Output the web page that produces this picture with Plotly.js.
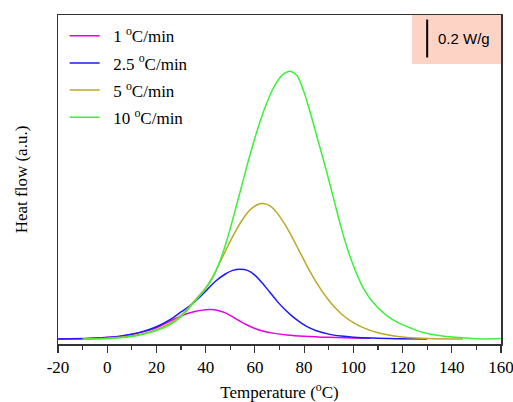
<!DOCTYPE html>
<html>
<head>
<meta charset="utf-8">
<script src="https://cdn.plot.ly/plotly-3.0.1.min.js"></script>
<style>html,body{margin:0;padding:0;background:#fff;}#chart{width:513px;height:402px;}</style>
</head>
<body>
<div id="chart"></div>
<script>
// Temperature (°C) and heat flow (W/g, baseline-subtracted)
var names = ["1 <sup>o</sup>C/min", "2.5 <sup>o</sup>C/min", "5 <sup>o</sup>C/min", "10 <sup>o</sup>C/min"];
var colors = ["#e600e6", "#1a1aff", "#bba823", "#3cf03c"];

var x1 = [-20, -10, -5, 0, 5, 10, 15, 20, 24, 28, 32, 36, 40, 42, 45, 48, 51, 54, 57, 60, 64, 68, 73, 80, 90, 100, 107];
var y1 = [0, 0.003, 0.005, 0.009, 0.015, 0.025, 0.04, 0.06, 0.085, 0.11, 0.132, 0.147, 0.155, 0.156, 0.151, 0.138, 0.117, 0.094, 0.073, 0.056, 0.04, 0.03, 0.022, 0.015, 0.009, 0.006, 0.004];

var x2 = [-20, -10, -5, 0, 5, 10, 15, 20, 25, 30, 35, 40, 44, 48, 51, 54, 57, 60, 63, 66, 69, 72, 75, 78, 81, 85, 90, 95, 100, 108, 118, 130];
var y2 = [0, 0.002, 0.004, 0.008, 0.014, 0.025, 0.042, 0.065, 0.098, 0.143, 0.19, 0.252, 0.305, 0.343, 0.362, 0.368, 0.362, 0.337, 0.295, 0.248, 0.2, 0.158, 0.122, 0.092, 0.067, 0.044, 0.026, 0.016, 0.01, 0.005, 0.002, 0];

var x3 = [-10, 0, 5, 10, 15, 20, 25, 30, 33, 36, 40, 43, 46, 49, 52, 55, 58, 61, 63.3, 66, 69, 72, 75, 78, 81, 84, 87, 90, 93, 96, 100, 104, 110, 116, 122, 130, 144.6];
var y3 = [0, 0.004, 0.009, 0.017, 0.03, 0.05, 0.08, 0.125, 0.165, 0.21, 0.27, 0.33, 0.41, 0.49, 0.565, 0.63, 0.68, 0.708, 0.714, 0.703, 0.665, 0.608, 0.54, 0.465, 0.39, 0.32, 0.258, 0.205, 0.16, 0.123, 0.087, 0.06, 0.033, 0.017, 0.008, 0.003, 0];

var x4 = [-10, 0, 5, 10, 15, 20, 25, 30, 35, 40.5, 43, 46, 49, 52, 55, 58, 61, 64, 67, 70, 72, 74.4, 77, 80, 83, 86, 89, 92, 95, 98, 101, 104, 107, 110, 114, 118, 123, 128, 134, 140, 146, 152, 160];
var y4 = [0, 0.003, 0.007, 0.014, 0.027, 0.045, 0.072, 0.118, 0.19, 0.275, 0.328, 0.418, 0.538, 0.679, 0.826, 0.97, 1.102, 1.216, 1.31, 1.375, 1.4, 1.412, 1.39, 1.3, 1.17, 1.03, 0.89, 0.74, 0.59, 0.46, 0.355, 0.27, 0.21, 0.165, 0.12, 0.088, 0.06, 0.036, 0.02, 0.011, 0.005, 0.001, 0.003];

var xTicks = [-20, 0, 20, 40, 60, 80, 100, 120, 140, 160];
var scaleBarValue = 0.2;   // W/g
var scaleBarX = 130;
var scaleBarY0 = 1.484;

var xs = [x1, x2, x3, x4], ys = [y1, y2, y3, y4];
var serif = "Liberation Serif, Times New Roman, serif";
var traces = names.map(function (n, i) {
  return {x: xs[i], y: ys[i], name: "&nbsp;&nbsp;" + n, legendgroup: "g" + i, type: "scatter", mode: "lines",
          line: {color: colors[i], width: 1.5, shape: "spline", smoothing: 1}};
});

var layout = {
  width: 513, height: 402,
  margin: {l: 58, r: 12, t: 14.5, b: 58},
  paper_bgcolor: "#fff", plot_bgcolor: "#fff",
  font: {family: serif, size: 17, color: "#000"},
  showlegend: true,
  legend: {x: 0.015, y: 0.99, xanchor: "left", yanchor: "top", bgcolor: "rgba(0,0,0,0)",
           font: {family: serif, size: 17, color: "#000"}, tracegroupgap: 2},
  xaxis: {range: [-20, 160], tickvals: xTicks, ticktext: xTicks.map(String), ticklabeloverflow: "allow",
          ticks: "outside", ticklen: 7, tickwidth: 1.2, tickcolor: "#333",
          minor: {dtick: 10, tick0: 0, ticks: "outside", ticklen: 4, tickwidth: 1.2, tickcolor: "#333"},
          showgrid: false, zeroline: false, showline: true, mirror: true, linecolor: "#333", linewidth: 1.5,
          tickfont: {family: serif, size: 17, color: "#000"},
          title: {text: "Temperature (<sup>o</sup>C)", font: {family: serif, size: 17, color: "#000"}, standoff: 12}},
  yaxis: {range: [-0.026, 1.708], showticklabels: false, ticks: "", showgrid: false, zeroline: false,
          showline: true, mirror: true, linecolor: "#333", linewidth: 1.5,
          title: {text: "Heat flow (a.u.)", font: {family: serif, size: 17, color: "#000"}, standoff: 24}},
  shapes: [
    {type: "rect", xref: "paper", yref: "paper", x0: 0.799, x1: 1, y0: 0.851, y1: 1,
     fillcolor: "#fcd3c5", line: {width: 0}, layer: "below"},
    {type: "line", xref: "x", yref: "y", x0: scaleBarX, x1: scaleBarX, y0: scaleBarY0, y1: scaleBarY0 + scaleBarValue,
     line: {color: "#000", width: 2}}
  ],
  annotations: [
    {xref: "x", yref: "y", x: scaleBarX + 3.5, y: scaleBarY0 + scaleBarValue / 2, xanchor: "left", yanchor: "middle",
     text: scaleBarValue + " W/g", showarrow: false, font: {family: "Liberation Sans, Arial, sans-serif", size: 15, color: "#000"}}
  ]
};
Plotly.newPlot("chart", traces, layout, {displayModeBar: false, staticPlot: true});
</script>
</body>
</html>
